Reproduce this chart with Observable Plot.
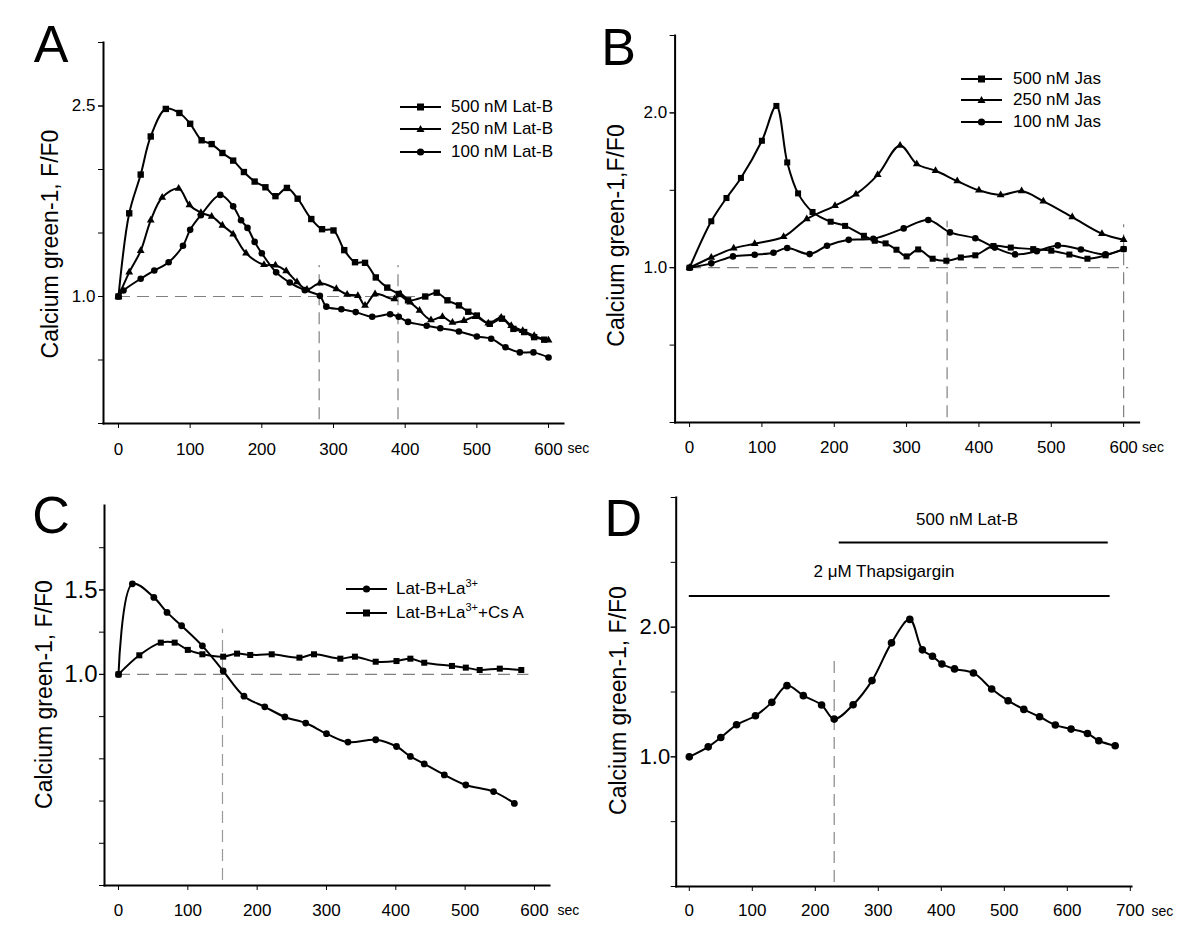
<!DOCTYPE html>
<html><head><meta charset="utf-8">
<script src="https://cdn.jsdelivr.net/npm/d3@7"></script>
<script src="https://cdn.jsdelivr.net/npm/@observablehq/plot@0.6"></script>
<style>
body{margin:0;background:#fff;}
#fig{position:relative;width:1200px;height:940px;font-family:"Liberation Sans",Arial,Helvetica,sans-serif;color:#000;overflow:hidden;}
#fig svg.panel{position:absolute;overflow:visible;}
.lg{position:absolute;white-space:nowrap;font-size:17px;line-height:18px;}
.lg sup{font-size:11px;line-height:0;vertical-align:7px;}
</style></head><body><div id="fig"></div>
<script>
// ---------- Panel A: Latrunculin B ----------
const tA500 = [0,15,31,45,66,85,100,116,130,145,160,175,190,205,219,235,250,269,284,300,315,330,344,359,375,391,404,428,444,459,475,488,500,518,535,551,566,580,594];
const vA500 = [1.0,1.655,1.96,2.26,2.477,2.445,2.36,2.23,2.20,2.13,2.07,1.98,1.905,1.86,1.79,1.855,1.77,1.61,1.53,1.52,1.365,1.27,1.265,1.15,1.07,1.02,0.97,1.0,1.03,0.97,0.93,0.88,0.85,0.785,0.825,0.745,0.72,0.68,0.66];
const tA250 = [0,15,31,45,61,84,99,115,130,145,160,178,203,219,234,249,263,281,304,319,334,344,358,385,393,407,420,436,452,466,482,498,516,534,548,564,580,600];
const vA250 = [1.0,1.19,1.36,1.60,1.78,1.85,1.72,1.66,1.63,1.56,1.49,1.34,1.25,1.246,1.20,1.115,1.055,1.105,1.06,1.016,1.005,0.93,1.02,0.98,1.02,0.955,0.89,0.815,0.84,0.795,0.81,0.84,0.79,0.835,0.77,0.73,0.69,0.655];
const tA100 = [0,7,31,50,70,90,100,115,142,160,171,180,190,200,220,239,260,281,290,311,331,354,379,391,404,430,449,475,500,520,540,560,579,600];
const vA100 = [1.0,1.047,1.14,1.205,1.27,1.40,1.525,1.64,1.80,1.71,1.60,1.54,1.43,1.34,1.19,1.11,1.05,1.005,0.92,0.90,0.877,0.84,0.86,0.84,0.80,0.77,0.75,0.725,0.685,0.667,0.60,0.56,0.56,0.52];
const legendA = ["500 nM Lat-B", "250 nM Lat-B", "100 nM Lat-B"];
const eventsA = [280, 390];

// ---------- Panel B: Jasplakinolide ----------
const tB500 = [0,30,51,71,100,120,135,150,170,195,215,241,256,271,286,300,316,336,355,375,395,420,444,475,500,525,550,575,600];
const vB500 = [1.0,1.30,1.45,1.58,1.82,2.045,1.68,1.48,1.36,1.297,1.27,1.206,1.174,1.157,1.116,1.073,1.118,1.058,1.045,1.066,1.08,1.14,1.13,1.12,1.11,1.085,1.058,1.08,1.12];
const tB250 = [0,30,61,90,130,162,201,230,260,291,314,340,370,400,430,459,489,529,570,600];
const vB250 = [1.0,1.066,1.125,1.155,1.20,1.314,1.40,1.475,1.60,1.79,1.67,1.626,1.56,1.50,1.47,1.495,1.43,1.327,1.22,1.18];
const tB100 = [0,30,60,90,116,135,166,190,220,254,296,330,360,395,422,450,480,509,541,575,600];
const vB100 = [1.0,1.028,1.073,1.084,1.097,1.127,1.088,1.142,1.18,1.187,1.254,1.308,1.228,1.19,1.13,1.086,1.107,1.144,1.118,1.086,1.12];
const legendB = ["500 nM Jas", "250 nM Jas", "100 nM Jas"];
const eventsB = [356, 600];

// ---------- Panel C: Lat-B + La3+ (± Cs A) ----------
const tC1 = [0,20,51,70,91,121,151,181,211,240,270,300,331,371,401,421,441,470,501,541,571];
const vC1 = [1.0,1.536,1.456,1.367,1.288,1.169,1.02,0.871,0.808,0.748,0.712,0.649,0.599,0.613,0.573,0.514,0.47,0.405,0.345,0.306,0.236];
const tC2 = [0,30,61,81,100,121,151,171,190,221,261,282,320,341,371,401,421,441,481,501,521,550,581];
const vC2 = [1.0,1.113,1.188,1.188,1.145,1.119,1.105,1.123,1.115,1.119,1.099,1.119,1.093,1.105,1.075,1.079,1.093,1.069,1.05,1.04,1.026,1.034,1.026];
const eventsC = [150];

// ---------- Panel D: Thapsigargin then Lat-B ----------
const tD = [0,30,50,75,105,131,155,181,210,230,260,290,321,350,370,386,401,421,451,480,506,531,556,581,606,632,650,676];
const vD = [1.0,1.077,1.149,1.247,1.317,1.42,1.549,1.472,1.40,1.291,1.402,1.588,1.879,2.06,1.825,1.776,1.716,1.678,1.647,1.523,1.433,1.366,1.309,1.245,1.214,1.18,1.124,1.085];
const treatNames = ["2 μM Thapsigargin", "500 nM Lat-B"];
const treatStart = [0, 238];
const treatEnd = [668, 665];
const eventsD = [230];

// ---------- helpers ----------
const FONT = '"Liberation Sans", Arial, Helvetica, sans-serif';
const pts = (t, v) => t.map((x, i) => ({t: x, v: v[i]}));
const fig = document.getElementById("fig");
const dash = {stroke: "#808080", strokeWidth: 1.2, strokeDasharray: "12,7"};
const f1 = d3.format(".1f");

function series(t, v, symbol, r) {
  const d = pts(t, v);
  return [
    Plot.line(d, {x: "t", y: "v", curve: "catmull-rom", stroke: "#000", strokeWidth: 2}),
    Plot.dot(d, {x: "t", y: "v", symbol, r, fill: "#000", stroke: "none"})
  ];
}
function commonMarks(o) {
  return [
    Plot.axisY({ticks: o.yTicks, tickSize: 5, tickFormat: () => "", label: null}),
    Plot.axisY({ticks: o.yLabels, tickSize: 5, tickPadding: o.yPad, tickFormat: f1, label: null, fontSize: o.yFont}),
    Plot.axisX({ticks: o.xTicks, tickSize: 5, tickPadding: o.xPad, tickFormat: d3.format("d"), label: null, fontSize: 17}),
    Plot.frame({anchor: "left", stroke: "#000", strokeWidth: 2}),
    Plot.frame({anchor: "bottom", stroke: "#000", strokeWidth: 2}),
    Plot.text([o.title], {frameAnchor: "left", textAnchor: "middle", lineAnchor: "middle", rotate: -90, dx: o.titleDx, dy: o.titleDy, fontSize: 23}),
    Plot.text(["sec"], {frameAnchor: "bottom-right", textAnchor: "start", lineAnchor: "top", dx: o.secDx, dy: 20, fontSize: 14}),
    Plot.text([o.letter], {frameAnchor: "top-left", textAnchor: "middle", lineAnchor: "top", dx: o.letterDx, dy: o.letterDy, fontSize: 52})
  ];
}
function place(svg, left, top) {
  svg.classList.add("panel");
  svg.style.left = left + "px";
  svg.style.top = top + "px";
  fig.appendChild(svg);
}
function symbolSvg(sym) {
  let m = "";
  if (sym === "square") m = '<rect x="17" y="2.5" width="7" height="7" fill="#000"/>';
  if (sym === "triangle") m = '<path d="M20.5,2 L24.5,9 L16.5,9 Z" fill="#000"/>';
  if (sym === "circle") m = '<circle cx="20.5" cy="6" r="3.6" fill="#000"/>';
  return '<svg width="41" height="12" style="position:absolute;left:0;top:0"><line x1="0" x2="41" y1="6" y2="6" stroke="#000" stroke-width="2"/>' + m + '</svg>';
}
function legend(x, textX, ys, labels, syms) {
  labels.forEach((lab, i) => {
    const sw = document.createElement("div");
    sw.style.cssText = `position:absolute;left:${x}px;top:${ys[i] - 6}px;width:41px;height:12px;`;
    sw.innerHTML = symbolSvg(syms[i]);
    fig.appendChild(sw);
    const tx = document.createElement("div");
    tx.className = "lg";
    tx.style.left = textX + "px";
    tx.style.top = (ys[i] - 9) + "px";
    tx.innerHTML = lab;
    fig.appendChild(tx);
  });
}

// ---------- Panel A ----------
place(Plot.plot({
  width: 600, height: 462,
  marginLeft: 103, marginRight: 37, marginTop: 42, marginBottom: 39,
  x: {domain: [-20.9, 620.9]},
  y: {domain: [0, 3]},
  style: {fontFamily: FONT, fontSize: "17px", color: "#000", background: "transparent", overflow: "visible"},
  marks: [
    Plot.ruleY([1], {x1: 0, x2: 415, ...dash}),
    Plot.ruleX(eventsA, {x: d => d, y1: 0.03, y2: 1.244, ...dash}),
    ...series(tA500, vA500, "square", 3.6),
    ...series(tA250, vA250, "triangle", 2.9),
    ...series(tA100, vA100, "circle", 3.3),
    ...commonMarks({yTicks: d3.range(0, 3.01, 0.5), yLabels: [1, 2.5], yPad: 3, yFont: 17, xTicks: d3.range(0, 601, 100), xPad: 14,
      title: "Calcium green-1, F/F0", titleDx: -53, titleDy: 11, secDx: 4, letter: "A", letterDx: -52.5, letterDy: -17})
  ]
}), 0, 0);

// ---------- Panel B ----------
place(Plot.plot({
  width: 600, height: 462,
  marginLeft: 74.6, marginRight: 61.4, marginTop: 35, marginBottom: 40,
  x: {domain: [-20, 621.4]},
  y: {domain: [0, 2.5]},
  style: {fontFamily: FONT, fontSize: "17px", color: "#000", background: "transparent", overflow: "visible"},
  marks: [
    Plot.ruleY([1], {x1: 0, x2: 607, ...dash}),
    Plot.ruleX(eventsB, {x: d => d, y1: 0.03, y2: d => d === 600 ? 1.277 : 1.30, ...dash}),
    ...series(tB500, vB500, "square", 3.4),
    ...series(tB250, vB250, "triangle", 2.9),
    ...series(tB100, vB100, "circle", 3.3),
    ...commonMarks({yTicks: d3.range(0, 2.51, 0.5), yLabels: [1, 2], yPad: 3, yFont: 17, xTicks: d3.range(0, 601, 100), xPad: 13,
      title: "Calcium green-1,F/F0", titleDx: -58, titleDy: 6.5, secDx: 3, letter: "B", letterDx: -56.6, letterDy: -7})
  ]
}), 600, 0);

// ---------- Panel C ----------
place(Plot.plot({
  width: 600, height: 478,
  marginLeft: 104, marginRight: 51, marginTop: 43, marginBottom: 55,
  x: {domain: [-20.2, 621.7]},
  y: {domain: [-0.25, 2.0]},
  style: {fontFamily: FONT, fontSize: "17px", color: "#000", background: "transparent", overflow: "visible"},
  marks: [
    Plot.ruleY([1], {x1: 0, x2: 592, ...dash}),
    Plot.ruleX(eventsC, {x: d => d, y1: -0.22, y2: 1.268, ...dash, stroke: "#999"}),
    ...series(tC1, vC1, "circle", 3.4),
    ...series(tC2, vC2, "square", 3.4),
    ...commonMarks({yTicks: d3.range(-0.25, 1.76, 0.25), yLabels: [1, 1.5], yPad: 2, yFont: 24, xTicks: d3.range(0, 601, 100), xPad: 13,
      title: "Calcium green-1, F/F0", titleDx: -60, titleDy: -1, secDx: 8, letter: "C", letterDx: -53.5, letterDy: -9})
  ]
}), 0, 462);

// ---------- Panel D ----------
const treat = treatNames.map((n, i) => ({name: n, x1: treatStart[i], x2: treatEnd[i]}));
place(Plot.plot({
  width: 600, height: 478,
  marginLeft: 75.7, marginRight: 69, marginTop: 35, marginBottom: 54,
  x: {domain: [-20.8, 701.9]},
  y: {domain: [0, 3]},
  style: {fontFamily: FONT, fontSize: "17px", color: "#000", background: "transparent", overflow: "visible"},
  marks: [
    Plot.ruleX(eventsD, {x: d => d, y1: 0.03, y2: 1.742, ...dash, stroke: "#888"}),
    Plot.ruleY(treat, {x1: "x1", x2: "x2", y: (d, i) => [2.241, 2.652][i], stroke: "#000", strokeWidth: 2}),
    Plot.text(treat, {x: (d, i) => [309, 441][i], y: (d, i) => [2.426, 2.831][i], text: "name", fontSize: 17}),
    ...series(tD, vD, "circle", 3.8),
    ...commonMarks({yTicks: d3.range(0, 3.01, 0.5), yLabels: [1, 2], yPad: 1, yFont: 22, xTicks: d3.range(0, 701, 100), xPad: 12,
      title: "Calcium green-1, F/F0", titleDx: -58, titleDy: 8.5, secDx: 20, letter: "D", letterDx: -53, letterDy: 2})
  ]
}), 600, 462);

// ---------- legends ----------
legend(400, 451, [107, 129, 152], legendA, ["square", "triangle", "circle"]);
legend(961, 1013, [79, 100, 122], legendB, ["square", "triangle", "circle"]);
legend(346, 396, [589, 613], ["Lat-B+La<sup>3+</sup>", "Lat-B+La<sup>3+</sup>+Cs A"], ["circle", "square"]);
</script></body></html>
